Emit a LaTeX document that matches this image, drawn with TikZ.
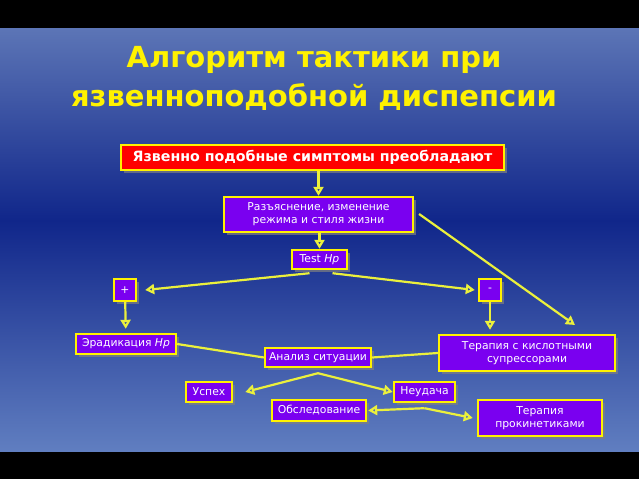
\documentclass[tikz,border=0pt]{standalone}
\usepackage{fontspec}
\setmainfont{DejaVu Sans}
\usetikzlibrary{arrows.meta,shadows}
\definecolor{boxviolet}{RGB}{122,0,240}
\definecolor{bgtop}{RGB}{92,117,182}
\definecolor{bgmid}{RGB}{16,38,138}
\definecolor{bgbot}{RGB}{96,126,192}
\definecolor{linkyellow}{RGB}{235,240,60}
\tikzset{
  box/.style={draw=yellow, line width=2.4pt, fill=boxviolet, text=white, align=center,
    inner sep=1pt, font=\fontsize{10.8}{13}\selectfont,
    drop shadow={shadow xshift=2.5pt, shadow yshift=-2.5pt, opacity=0.7}},
  redbox/.style={box, fill=red, font=\fontsize{14.2}{16}\selectfont\bfseries},
  title/.style={text=yellow, align=center, font=\fontsize{29}{39}\selectfont\bfseries},
  link/.style={draw=linkyellow, line width=2.2pt},
  arrow/.style={link, -{Triangle[open, length=9pt, width=10pt]}}
}

\begin{document}
\begin{tikzpicture}[x=1pt,y=-1pt]
  \useasboundingbox (0,0) rectangle (639,479);
  \fill[black] (0,0) rectangle (639,479);
  \shade[top color=bgtop, bottom color=bgmid] (0,28) rectangle (639,221);
  \shade[top color=bgmid, bottom color=bgbot] (0,220) rectangle (639,451);

  \node[title] (title) at (314,78) {Алгоритм тактики при\\язвенноподобной диспепсии};

  \node[redbox, minimum width=383, minimum height=25] (main) at (312.5,157.5) {Язвенно подобные симптомы преобладают};
  \node[box, minimum width=189, minimum height=35] (expl) at (318.5,214.5) {Разъяснение, изменение\\режима и стиля жизни};
  \node[box, minimum width=55, minimum height=19] (test) at (319.5,259.5) {Test \textit{Hp}};
  \node[box, minimum width=22, minimum height=22] (plus) at (125,290) {+};
  \node[box, minimum width=22, minimum height=22] (minus) at (490,290) {-};
  \node[box, minimum width=100, minimum height=20] (erad) at (126,344) {Эрадикация \textit{Hp}};
  \node[box, minimum width=106, minimum height=19] (anal) at (318,357.5) {Анализ ситуации};
  \node[box, minimum width=176, minimum height=36] (acid) at (527,353) {Терапия с кислотными\\супрессорами};
  \node[box, minimum width=46, minimum height=20] (succ) at (209,392) {Успех};
  \node[box, minimum width=61, minimum height=20] (fail) at (424.5,392) {Неудача};
  \node[box, minimum width=94, minimum height=21] (exam) at (319,410.5) {Обследование};
  \node[box, minimum width=124, minimum height=36] (prok) at (540,418) {Терапия\\прокинетиками};

  \coordinate (acidtip) at (575,325);
  \coordinate (afork) at ([yshift=-5pt]anal.south);
  \coordinate (efork) at ([yshift=-5pt]fail.south);

  \draw[arrow] (main.south -| expl.north) -- (expl.north);
  \draw[arrow] (expl.south -| test.north) -- (test.north);
  \draw[arrow] ([xshift=-10pt,yshift=-3pt]test.south) -- ([xshift=8pt]plus.east);
  \draw[arrow] ([xshift=13pt,yshift=-3pt]test.south) -- ([xshift=-3pt]minus.west);
  \draw[arrow, shorten >=4pt] (plus) -- (erad);
  \draw[arrow, shorten >=4pt] (minus) -- (minus |- acid.north);
  \draw[arrow, shorten <=6pt] ([yshift=4pt]expl.east) -- (acidtip);
  \draw[link] (erad.east) -- (anal.west);
  \draw[link] (acid.west) -- (anal.east);
  \draw[arrow] (afork) -- ([xshift=12pt]succ.east);
  \draw[arrow] (afork) -- (fail.west);
  \draw[arrow] (efork) -- ([xshift=1pt]exam.east);
  \draw[arrow] (efork) -- ([xshift=-4pt]prok.west);
\end{tikzpicture}
\end{document}
